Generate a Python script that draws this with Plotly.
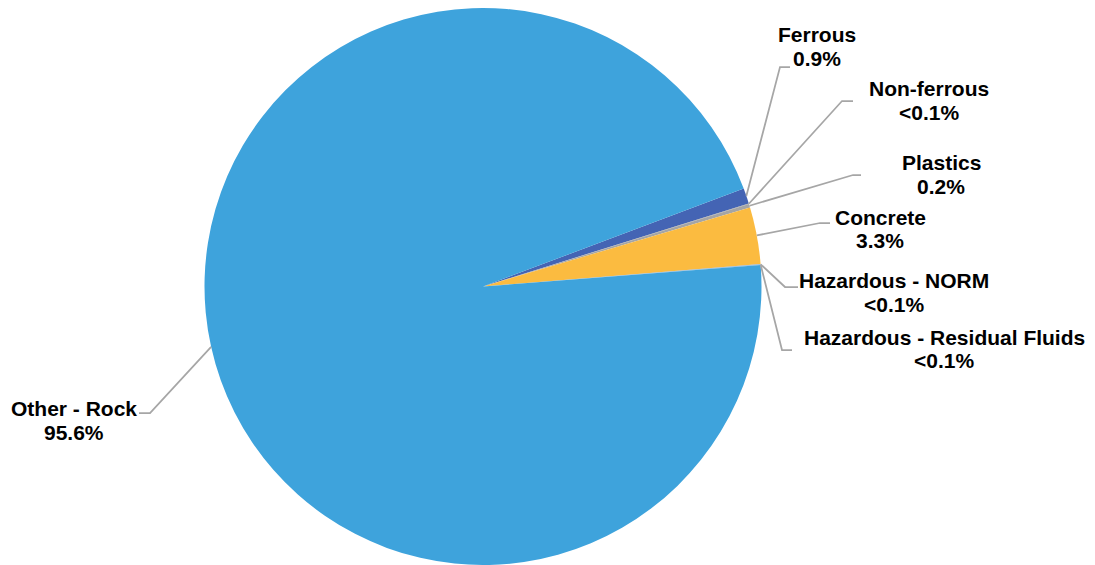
import math
import plotly.graph_objects as go

# ---- data ----
labels = ["Ferrous", "Non-ferrous", "Plastics", "Concrete",
          "Hazardous - NORM", "Hazardous - Residual Fluids", "Other - Rock"]
values = [0.9, 0.04, 0.2, 3.3, 0.03, 0.03, 95.6]
pct_text = ["0.9%", "<0.1%", "0.2%", "3.3%", "<0.1%", "<0.1%", "95.6%"]
colors = ["#4464B4", "#9E9E9E", "#A5A5A5", "#FBBB40", "#8FA8C8", "#7FB0D8", "#3EA3DC"]

# ---- layout geometry (pixels) ----
W, H = 1095, 565
TOP = 8
pie_w = 966
rotation = 69.4
cx = pie_w / 2
r = (H - TOP) / 2
cy = TOP + r

# label block centers (x, y of first line), line spacing
label_pos = [(817, 35), (929, 88), (941, 162), (880, 217),
             (894, 280), (944, 337), (74, 408)]
line_gap = 24
# leader elbow point and end x
elbows = [(780, 67, 790), (842, 101, 853), (853, 175, 861), (820, 223, 830),
          (785, 287, 798), (782, 350, 792), (150, 413, 139)]

def px(x):
    return x / W

def py(y):
    return 1 - y / H

fig = go.Figure(go.Pie(
    labels=labels, values=values, sort=False, direction="clockwise",
    rotation=rotation, marker=dict(colors=colors, line=dict(width=0)),
    textinfo="none", hoverinfo="skip", showlegend=False,
    domain=dict(x=[0, pie_w / W], y=[0, 1 - TOP / H]),
))

total = sum(values)
cum = 0.0
shapes = []
annotations = []
for i, v in enumerate(values):
    mid = rotation + (cum + v / 2) / total * 360
    cum += v
    a = math.radians(mid)
    sx = cx + r * math.sin(a)
    sy = cy - r * math.cos(a)
    ex, ey, endx = elbows[i]
    shapes.append(dict(
        type="path", xref="paper", yref="paper",
        path=f"M {px(sx)},{py(sy)} L {px(ex)},{py(ey)} L {px(endx)},{py(ey)}",
        line=dict(color="#A6A6A6", width=1.75),
    ))
    lx, ly = label_pos[i]
    for j, t in enumerate([labels[i], pct_text[i]]):
        annotations.append(dict(
            text=t, x=px(lx), y=py(ly + j * line_gap), xref="paper", yref="paper",
            xanchor="center", yanchor="middle", showarrow=False,
            font=dict(family="Liberation Sans, Arial, sans-serif", size=21,
                      color="#000000", weight="bold"),
        ))

fig.update_layout(
    width=W, height=H, margin=dict(l=0, r=0, t=0, b=0),
    paper_bgcolor="white", plot_bgcolor="white",
    shapes=shapes, annotations=annotations,
)

fig.write_html("out.html")
